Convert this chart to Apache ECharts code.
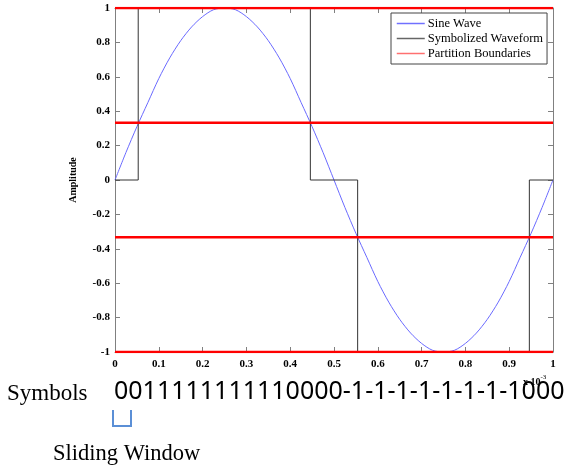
<!DOCTYPE html>
<html>
<head>
<meta charset="utf-8">
<script src="https://cdn.jsdelivr.net/npm/echarts@6/dist/echarts.min.js"></script>
<style>
  html, body { margin: 0; padding: 0; background: #fff; }
  #chart { width: 569px; height: 473px; }
</style>
</head>
<body>
<div id="chart"></div>
<script>
// time axis in units of 1e-3 s
const sineX = [0, 0.025, 0.05, 0.075, 0.1, 0.125, 0.15, 0.175, 0.2, 0.225, 0.25,
  0.275, 0.3, 0.325, 0.35, 0.375, 0.4, 0.425, 0.45, 0.475, 0.5,
  0.525, 0.55, 0.575, 0.6, 0.625, 0.65, 0.675, 0.7, 0.725, 0.75,
  0.775, 0.8, 0.825, 0.85, 0.875, 0.9, 0.925, 0.95, 0.975, 1]
const sineY = [0, 0.16, 0.31, 0.45, 0.59, 0.71, 0.81, 0.89, 0.95, 0.99, 1,
  0.99, 0.95, 0.89, 0.81, 0.71, 0.59, 0.45, 0.31, 0.16, 0,
  -0.16, -0.31, -0.45, -0.59, -0.71, -0.81, -0.89, -0.95, -0.99, -1,
  -0.99, -0.95, -0.89, -0.81, -0.71, -0.59, -0.45, -0.31, -0.16, 0]

// symbolized (step) waveform corners
const stepX = [0, 0.053, 0.053, 0.446, 0.446, 0.554, 0.554, 0.946, 0.946, 1]
const stepY = [0, 0, 1, 1, 0, 0, -1, -1, 0, 0]

// partition boundaries
const boundaries = [1, 0.333, -0.333, -1]

const xTicks = [0, 0.1, 0.2, 0.3, 0.4, 0.5, 0.6, 0.7, 0.8, 0.9, 1]
const yTicks = [-1, -0.8, -0.6, -0.4, -0.2, 0, 0.2, 0.4, 0.6, 0.8, 1]

const symbols = [0, 0, 1, 1, 1, 1, 1, 1, 1, 1, 1, 1, 0, 0, 0, 0,
  -1, -1, -1, -1, -1, -1, -1, -1, 0, 0, 0]

const serif = 'Liberation Serif'
const axisGray = '#808080'

const chart = echarts.init(document.getElementById('chart'))

const tickLabel = { fontFamily: serif, fontSize: 11, fontWeight: 'bold', color: '#000' }

const boundarySeries = boundaries.map((b) => ({
  name: 'Partition Boundaries',
  type: 'line',
  data: [[xTicks[0], b], [xTicks[xTicks.length - 1], b]],
  symbol: 'none',
  lineStyle: { color: '#ff0000', width: 2.5 },
  itemStyle: { color: '#ff6666' },
  z: 4,
  silent: true
}))

const option = {
  animation: false,
  grid: { left: 115, right: 16, top: 8, bottom: 121 },
  legend: {
    orient: 'vertical',
    left: 391,
    top: 13,
    padding: [4, 4, 4, 5],
    itemGap: 2,
    itemWidth: 28,
    itemHeight: 12,
    borderColor: '#444',
    borderWidth: 1,
    backgroundColor: '#fff',
    data: [
      { name: 'Sine Wave', lineStyle: { color: '#7070ff' } },
      { name: 'Symbolized Waveform', lineStyle: { color: '#666' } },
      { name: 'Partition Boundaries', lineStyle: { color: '#ff7070', width: 1.5 } }
    ],
    itemStyle: { opacity: 0 },
    lineStyle: { width: 1.5 },
    textStyle: { fontFamily: serif, fontSize: 12.5, color: '#000', padding: [0, 0, 0, -2] }
  },
  xAxis: [
    {
      type: 'value',
      min: 0, max: 1, interval: 0.1,
      axisLine: { show: true, onZero: false, lineStyle: { color: axisGray } },
      axisTick: { show: true, inside: true, length: 5, lineStyle: { color: axisGray } },
      splitLine: { show: false },
      axisLabel: { ...tickLabel, margin: 7, formatter: (v) => String(+v.toFixed(1)) }
    },
    {
      type: 'value', position: 'top',
      min: 0, max: 1, interval: 0.1,
      axisLine: { show: true, onZero: false, lineStyle: { color: axisGray } },
      axisTick: { show: true, inside: true, length: 5, lineStyle: { color: axisGray } },
      splitLine: { show: false },
      axisLabel: { show: false }
    }
  ],
  yAxis: [
    {
      type: 'value',
      min: -1, max: 1, interval: 0.2,
      name: 'Amplitude',
      nameLocation: 'middle',
      nameGap: 37,
      nameTextStyle: { fontFamily: serif, fontSize: 10, fontWeight: 'bold', color: '#000' },
      axisLine: { show: true, onZero: false, lineStyle: { color: axisGray } },
      axisTick: { show: true, inside: true, length: 5, lineStyle: { color: axisGray } },
      splitLine: { show: false },
      axisLabel: { ...tickLabel, margin: 5, formatter: (v) => String(+v.toFixed(1)) }
    },
    {
      type: 'value', position: 'right',
      min: -1, max: 1, interval: 0.2,
      axisLine: { show: true, onZero: false, lineStyle: { color: axisGray } },
      axisTick: { show: true, inside: true, length: 5, lineStyle: { color: axisGray } },
      splitLine: { show: false },
      axisLabel: { show: false }
    }
  ],
  series: [
    {
      name: 'Sine Wave',
      type: 'line',
      data: sineX.map((x, i) => [x, sineY[i]]),
      smooth: 0.3,
      symbol: 'none',
      lineStyle: { color: '#6a6aff', width: 1 },
      itemStyle: { color: '#6a6aff' },
      z: 2
    },
    {
      name: 'Symbolized Waveform',
      type: 'line',
      data: stepX.map((x, i) => [x, stepY[i]]),
      symbol: 'none',
      lineStyle: { color: '#333', width: 1 },
      itemStyle: { color: '#555' },
      z: 3
    },
    ...boundarySeries
  ],
  graphic: [
    {
      type: 'text', left: 114, top: 379,
      style: { text: symbols.join(''), fontFamily: 'Noto Sans', fontSize: 25, fill: '#000' }
    },
    {
      type: 'text', left: 523, top: 374,
      style: {
        text: '{a|x 10}{b|-3}',
        rich: {
          a: { fontFamily: serif, fontSize: 10, fontWeight: 'bold', fill: '#000', verticalAlign: 'bottom' },
          b: { fontFamily: serif, fontSize: 7, fill: '#000', verticalAlign: 'top', padding: [0, 0, 6, 0] }
        }
      }
    },
    {
      type: 'text', left: 7, top: 382,
      style: { text: 'Symbols', fontFamily: serif, fontSize: 23, fill: '#000' }
    },
    {
      type: 'polyline',
      shape: { points: [[113, 410], [113, 426], [131, 426], [131, 410]] },
      style: { stroke: '#5b8fd6', lineWidth: 2, fill: null }
    },
    {
      type: 'text', left: 53, top: 443,
      style: { text: 'Sliding Window', fontFamily: serif, fontSize: 22.5, fill: '#000' }
    }
  ]
}

chart.setOption(option)
</script>
</body>
</html>
